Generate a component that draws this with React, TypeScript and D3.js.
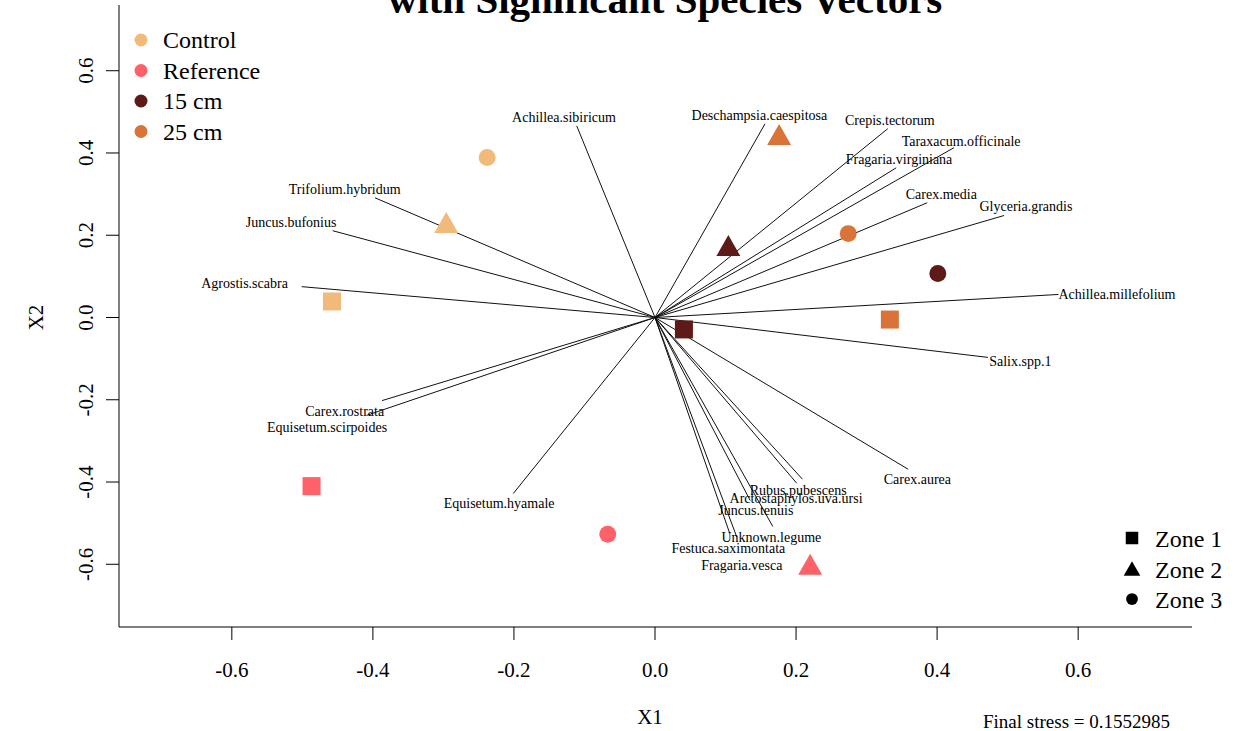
import React from "react";
import * as d3 from "d3";

// NMDS site scores, one point per treatment x zone
const groups = ["Control", "Reference", "15 cm", "25 cm"];
const zones = ["Zone 1", "Zone 2", "Zone 3"];
const siteGroup = ["Control", "Control", "Control", "Reference", "Reference", "Reference", "15 cm", "15 cm", "15 cm", "25 cm", "25 cm", "25 cm"];
const siteZone = ["Zone 1", "Zone 2", "Zone 3", "Zone 1", "Zone 2", "Zone 3", "Zone 1", "Zone 2", "Zone 3", "Zone 1", "Zone 2", "Zone 3"];
const siteX1 = [-0.458, -0.296, -0.238, -0.487, 0.22, -0.067, 0.041, 0.104, 0.401, 0.333, 0.176, 0.274];
const siteX2 = [0.039, 0.231, 0.389, -0.41, -0.6, -0.527, -0.029, 0.175, 0.107, -0.005, 0.445, 0.204];

// Significant species vectors (envfit) and their label anchors
const species = [
  "Achillea.sibiricum", "Trifolium.hybridum", "Juncus.bufonius", "Agrostis.scabra",
  "Carex.rostrata", "Equisetum.scirpoides", "Equisetum.hyamale", "Deschampsia.caespitosa",
  "Crepis.tectorum", "Taraxacum.officinale", "Fragaria.virginiana", "Carex.media",
  "Glyceria.grandis", "Achillea.millefolium", "Salix.spp.1", "Carex.aurea",
  "Rubus.pubescens", "Arctostaphylos.uva.ursi", "Juncus.tenuis", "Unknown.legume",
  "Festuca.saximontata", "Fragaria.vesca",
];
const vecX1 = [-0.111, -0.397, -0.457, -0.501, -0.387, -0.409, -0.201, 0.156, 0.330, 0.424, 0.342, 0.386, 0.495, 0.572, 0.472, 0.359, 0.209, 0.201, 0.135, 0.167, 0.106, 0.116];
const vecX2 = [0.466, 0.291, 0.211, 0.075, -0.202, -0.238, -0.428, 0.471, 0.459, 0.413, 0.364, 0.279, 0.248, 0.056, -0.097, -0.369, -0.393, -0.403, -0.445, -0.508, -0.525, -0.534];
const labX1 = [-0.129, -0.44, -0.516, -0.582, -0.44, -0.465, -0.221, 0.148, 0.333, 0.434, 0.346, 0.406, 0.526, 0.655, 0.518, 0.372, 0.203, 0.2, 0.143, 0.165, 0.104, 0.123];
const labX2 = [0.488, 0.311, 0.231, 0.083, -0.228, -0.267, -0.452, 0.491, 0.479, 0.43, 0.384, 0.299, 0.272, 0.058, -0.107, -0.393, -0.42, -0.44, -0.469, -0.534, -0.561, -0.602];

const xTicks = [-0.6, -0.4, -0.2, 0.0, 0.2, 0.4, 0.6];
const yTicks = [-0.6, -0.4, -0.2, 0.0, 0.2, 0.4, 0.6];
const finalStress = 0.1552985;

const groupColor: Record<string, string> = {
  Control: "#F1BA7A",
  Reference: "#FE6168",
  "15 cm": "#5E1A17",
  "25 cm": "#D97337",
};

const W = 1246;
const H = 731;
const serif = "'Liberation Serif', 'Times New Roman', Times, serif";

function Marker({ zone, x, y, color, s }: { zone: string; x: number; y: number; color: string; s: number }) {
  if (zone === "Zone 1") {
    return <rect x={x - s / 2} y={y - s / 2} width={s} height={s} fill={color} />;
  }
  if (zone === "Zone 2") {
    const w = s * 1.33;
    const h = s * 1.17;
    return <path d={`M${x},${y - h / 2}L${x + w / 2},${y + h / 2}L${x - w / 2},${y + h / 2}Z`} fill={color} />;
  }
  return <circle cx={x} cy={y} r={s * 0.47} fill={color} />;
}

export default function App() {
  const x = d3.scaleLinear().domain([-0.76, 0.76]).range([119, 1191]);
  const y = d3.scaleLinear().domain([-0.7525, 0.7525]).range([627, 8]);
  // plain hyphen for negatives, as base R graphics print them
  const fmt = (v: number) => d3.format(".1f")(v).replace("\u2212", "-");
  const x0 = x(0);
  const y0 = y(0);

  return (
    <svg width={W} height={H} style={{ position: "absolute", left: 0, top: 0, background: "#fff" }} fontFamily={serif}>
      <rect width={W} height={H} fill="#fff" />
      <text x={665} y={13} textAnchor="middle" fontSize={41} fontWeight="bold" fill="#000">
        with Significant Species Vectors
      </text>

      {/* L-shaped frame */}
      <path d={`M${x.range()[0]},${y.range()[1] - 3}V${y.range()[0]}H${x.range()[1] + 1}`} fill="none" stroke="#000" strokeWidth={1} />

      {/* x axis */}
      {xTicks.map((t) => (
        <g key={"xt" + t}>
          <line x1={x(t)} x2={x(t)} y1={627} y2={640} stroke="#000" />
          <text x={x(t)} y={677} textAnchor="middle" fontSize={21}>{fmt(t)}</text>
        </g>
      ))}
      <text x={650} y={724} textAnchor="middle" fontSize={21}>X1</text>

      {/* y axis */}
      {yTicks.map((t) => (
        <g key={"yt" + t}>
          <line x1={106} x2={119} y1={y(t)} y2={y(t)} stroke="#000" />
          <text transform={`translate(93,${y(t)}) rotate(-90)`} textAnchor="middle" fontSize={21}>{fmt(t)}</text>
        </g>
      ))}
      <text transform={`translate(43,${y(0)}) rotate(-90)`} textAnchor="middle" fontSize={21}>X2</text>

      <text x={1170} y={728} textAnchor="end" fontSize={19}>{`Final stress = ${finalStress}`}</text>

      {/* species vectors */}
      {species.map((sp, i) => (
        <line key={"v" + sp} x1={x0} y1={y0} x2={x(vecX1[i])} y2={y(vecX2[i])} stroke="#111" strokeWidth={1} />
      ))}

      {/* site points */}
      {siteX1.map((v, i) => (
        <Marker key={"p" + i} zone={siteZone[i]} x={x(v)} y={y(siteX2[i])} color={groupColor[siteGroup[i]]} s={18} />
      ))}

      {/* species labels */}
      {species.map((sp, i) => (
        <text key={"l" + sp} x={x(labX1[i])} y={y(labX2[i])} dy="0.35em" textAnchor="middle" fontSize={14} fill="#000">
          {sp}
        </text>
      ))}

      {/* treatment legend */}
      {groups.map((g, i) => (
        <g key={"lg" + g}>
          <circle cx={141} cy={40 + i * 30.5} r={6.5} fill={groupColor[g]} />
          <text x={163} y={48 + i * 30.5} fontSize={24}>{g}</text>
        </g>
      ))}

      {/* zone legend */}
      {zones.map((z, i) => (
        <g key={"lz" + z}>
          <Marker zone={z} x={1132} y={538 + i * 30.5} color="#000" s={12.5} />
          <text x={1155} y={547 + i * 30.5} fontSize={24}>{z}</text>
        </g>
      ))}
    </svg>
  );
}
